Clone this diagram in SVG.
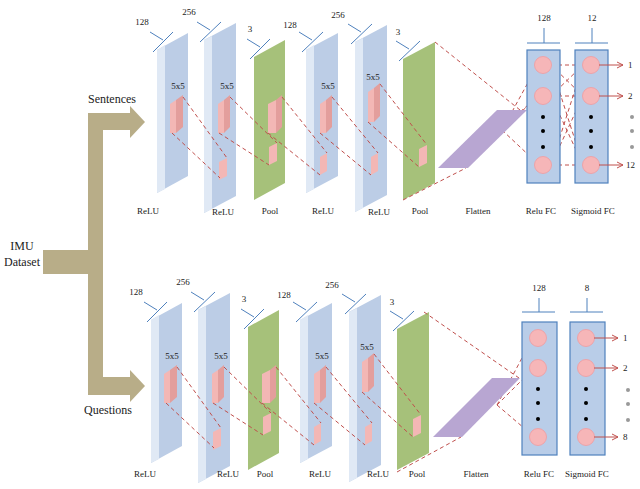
<svg xmlns="http://www.w3.org/2000/svg" width="640" height="489" viewBox="0 0 640 489" font-family="'Liberation Serif','DejaVu Serif',serif">
<style>
text{font-family:'Liberation Serif','DejaVu Serif',serif;fill:#222}
.s{font-size:9px}.m{font-size:12px}
.blue{fill:#bccde6}.bl{fill:#e0e9f5}
.grn{fill:#a6c17a}.gl{fill:#c5d7a6}
.pk{fill:#f3b7b5}.pkd{fill:#e39e9c}
.d{stroke:#c0504d;stroke-width:1;stroke-dasharray:4 3;fill:none}
.t{stroke:#4f81bd;stroke-width:1;fill:none}
.fc{fill:#b9cde8;stroke:#4f81bd;stroke-width:1.2}
.c{fill:#f6b6b8;stroke:#f19a9e;stroke-width:0.8}
.ar{stroke:#c0504d;stroke-width:1;fill:none}
.fl{fill:#b8a6d2}
</style>
<g id="input">
<path fill="#b8ad88" d="M43 250H88V113H130V106L145 122L130 138V130H103V377H130V370L145 386L130 402V395H88V274H43Z"/>
<text class="m" x="22" y="250" text-anchor="middle">IMU</text>
<text class="m" x="22" y="266" text-anchor="middle">Dataset</text>
<text class="m" x="112" y="103" text-anchor="middle">Sentences</text>
<text class="m" x="108" y="414" text-anchor="middle">Questions</text>
</g>
<defs>
<g id="row">
<g id="l1"><polygon class="blue" points="157,50 188,33 188,176 157,193"/><polygon class="bl" points="157,50 165,45 165,189 157,193"/>
<line class="t" x1="150" y1="32" x2="163" y2="40"/><line class="t" x1="153" y1="52" x2="173" y2="32"/><text class="s" x="142" y="25" text-anchor="middle">128</text></g>
<g id="l2"><polygon class="blue" points="204,40 236,23 236,196 204,213"/><polygon class="bl" points="204,40 212,36 212,209 204,213"/>
<line class="t" x1="197" y1="22" x2="210" y2="30"/><line class="t" x1="200" y1="42" x2="221" y2="22"/><text class="s" x="189" y="15" text-anchor="middle">256</text></g>
<g id="p1"><polygon class="grn" points="254,57 285,40 285,183 254,200"/>
<line class="t" x1="247" y1="39" x2="260" y2="47"/><line class="t" x1="250" y1="59" x2="270" y2="39"/><text class="s" x="250" y="32" text-anchor="middle">3</text></g>
<g id="l3"><polygon class="blue" points="306,50 338,33 338,176 306,193"/><polygon class="bl" points="306,50 314,45 314,189 306,193"/>
<line class="t" x1="299" y1="32" x2="312" y2="40"/><line class="t" x1="302" y1="52" x2="323" y2="32"/><text class="s" x="290" y="28" text-anchor="middle">128</text></g>
<g id="l4"><polygon class="blue" points="355,42 387,25 387,195 355,212"/><polygon class="bl" points="355,42 363,38 363,208 355,212"/>
<line class="t" x1="348" y1="24" x2="361" y2="32"/><line class="t" x1="351" y1="44" x2="372" y2="24"/><text class="s" x="338" y="18" text-anchor="middle">256</text></g>
<g id="p2"><polygon class="grn" points="403,59 435,42 435,183 403,200"/>
<line class="t" x1="396" y1="41" x2="409" y2="49"/><line class="t" x1="399" y1="61" x2="420" y2="41"/><text class="s" x="398" y="35" text-anchor="middle">3</text></g>
<g id="boxes">
<polygon class="pkd" points="176,100 183,95 183,127 176,133"/><polygon class="pk" points="170,104 176,100 176,133 170,133"/>
<polygon class="pkd" points="224,100 230,95 230,127 224,133"/><polygon class="pk" points="218,104 224,100 224,133 218,133"/>
<polygon class="pkd" points="276,100 282,95 282,127 276,133"/><polygon class="pk" points="268,104 276,100 276,133 268,133"/>
<polygon class="pkd" points="326,100 332,95 332,127 326,133"/><polygon class="pk" points="320,104 326,100 326,133 320,133"/>
<polygon class="pkd" points="374,88 380,83 380,116 374,122"/><polygon class="pk" points="368,92 374,88 374,122 368,122"/>
<polygon class="pk" points="219,162 227,158 227,176 219,180"/>
<polygon class="pk" points="269,147 277,143 277,161 269,165"/>
<polygon class="pk" points="320,157 327,153 327,171 320,175"/>
<polygon class="pk" points="371,157 378,153 378,171 371,175"/>
<polygon class="pk" points="419,149 427,145 427,163 419,167"/>
<text class="s" x="178" y="89" text-anchor="middle">5x5</text>
<text class="s" x="227" y="89" text-anchor="middle">5x5</text>
<text class="s" x="328" y="89" text-anchor="middle">5x5</text>
<text class="s" x="373" y="80" text-anchor="middle">5x5</text>
</g>
</g>
</defs>
<use href="#row"/>
<use href="#row" transform="translate(-6,270)"/>
<g id="connectors">
<path class="d" d="M183 97L227 158M172 133L220 178M230 97L277 143M219 133L269 165M282 97L327 153M268 133L320 175M332 97L378 153M320 133L371 175M380 84L427 145M368 122L419 167"/>
<path class="d" transform="translate(-6,270)" d="M183 97L227 158M172 133L220 178M230 97L277 143M219 133L269 165M282 97L327 153M268 133L320 175M332 97L378 153M320 133L371 175M380 84L427 145M368 122L419 167"/>
<path class="d" d="M435 42L520 110M403 200L466 168M502 130L536 68M502 130L536 98M502 130L536 162M520 112L536 98"/>
<path class="d" d="M551 65H583M551 65L583 96M551 65L583 165M551 96L583 65M551 96H583M551 96L583 165M551 165L583 65M551 165L583 96M551 165H583"/>
<path class="d" d="M424 312L519 378M397 472L461 437M497 405L531 341M497 405L531 371M497 405L531 434"/>
</g>
<g id="flatten">
<polygon class="fl" points="438,168 468,168 527,110 497,110"/>
<polygon class="fl" points="433,437 462,437 520,378 492,378"/>
</g>
<g id="fc-top">
<rect class="fc" x="527" y="50" width="33" height="133"/>
<rect class="fc" x="575" y="50" width="33" height="133"/>
<path class="t" d="M527 43H560M544 43V28M575 43H608M592 43V28"/>
<text class="s" x="544" y="21" text-anchor="middle">128</text>
<text class="s" x="592" y="21" text-anchor="middle">12</text>
<circle class="c" cx="543" cy="65" r="8.5"/><circle class="c" cx="543" cy="96" r="8.5"/><circle class="c" cx="543" cy="165" r="8.5"/>
<circle class="c" cx="591" cy="65" r="8.5"/><circle class="c" cx="591" cy="96" r="8.5"/><circle class="c" cx="591" cy="165" r="8.5"/>
<g fill="#000"><circle cx="543" cy="117" r="2"/><circle cx="543" cy="131" r="2"/><circle cx="543" cy="147" r="2"/>
<circle cx="591" cy="117" r="2"/><circle cx="591" cy="131" r="2"/><circle cx="591" cy="147" r="2"/></g>
<g fill="#999"><circle cx="632" cy="117" r="2"/><circle cx="632" cy="131" r="2"/><circle cx="632" cy="147" r="2"/></g>
<path class="ar" d="M599 65H623M617 62L623 65L617 68M599 96H623M617 93L623 96L617 99M599 165H623M617 162L623 165L617 168"/>
<text class="s" x="628" y="68">1</text><text class="s" x="628" y="99">2</text><text class="s" x="626" y="168">12</text>
</g>
<g id="fc-bottom">
<rect class="fc" x="522" y="322" width="35" height="133"/>
<rect class="fc" x="570" y="322" width="35" height="133"/>
<path class="t" d="M522 312H555M539 312V298M570 312H603M587 312V298"/>
<text class="s" x="539" y="291" text-anchor="middle">128</text>
<text class="s" x="587" y="291" text-anchor="middle">8</text>
<circle class="c" cx="538" cy="338" r="8.5"/><circle class="c" cx="538" cy="368" r="8.5"/><circle class="c" cx="538" cy="437" r="8.5"/>
<circle class="c" cx="586" cy="338" r="8.5"/><circle class="c" cx="586" cy="368" r="8.5"/><circle class="c" cx="586" cy="437" r="8.5"/>
<g fill="#000"><circle cx="538" cy="389" r="2"/><circle cx="538" cy="403" r="2"/><circle cx="538" cy="419" r="2"/>
<circle cx="586" cy="389" r="2"/><circle cx="586" cy="403" r="2"/><circle cx="586" cy="419" r="2"/></g>
<g fill="#999"><circle cx="628" cy="390" r="2"/><circle cx="628" cy="404" r="2"/><circle cx="628" cy="420" r="2"/></g>
<path class="ar" d="M594 338H618M612 335L618 338L612 341M594 368H618M612 365L618 368L612 371M594 437H618M612 434L618 437L612 440"/>
<text class="s" x="623" y="341">1</text><text class="s" x="623" y="371">2</text><text class="s" x="623" y="440">8</text>
</g>
<g id="labels">
<text class="s" x="148" y="214" text-anchor="middle">ReLU</text><text class="s" x="223" y="215" text-anchor="middle">ReLU</text>
<text class="s" x="270" y="214" text-anchor="middle">Pool</text><text class="s" x="323" y="214" text-anchor="middle">ReLU</text>
<text class="s" x="379" y="215" text-anchor="middle">ReLU</text><text class="s" x="420" y="214" text-anchor="middle">Pool</text>
<text class="s" x="478" y="214" text-anchor="middle">Flatten</text><text class="s" x="541" y="214" text-anchor="middle">Relu FC</text>
<text class="s" x="593" y="214" text-anchor="middle">Sigmoid FC</text>
<text class="s" x="145" y="477" text-anchor="middle">ReLU</text><text class="s" x="228" y="477" text-anchor="middle">ReLU</text>
<text class="s" x="265" y="477" text-anchor="middle">Pool</text><text class="s" x="320" y="477" text-anchor="middle">ReLU</text>
<text class="s" x="378" y="477" text-anchor="middle">ReLU</text><text class="s" x="417" y="477" text-anchor="middle">Pool</text>
<text class="s" x="476" y="477" text-anchor="middle">Flatten</text><text class="s" x="539" y="477" text-anchor="middle">Relu FC</text>
<text class="s" x="587" y="477" text-anchor="middle">Sigmoid FC</text>
</g>
</svg>
